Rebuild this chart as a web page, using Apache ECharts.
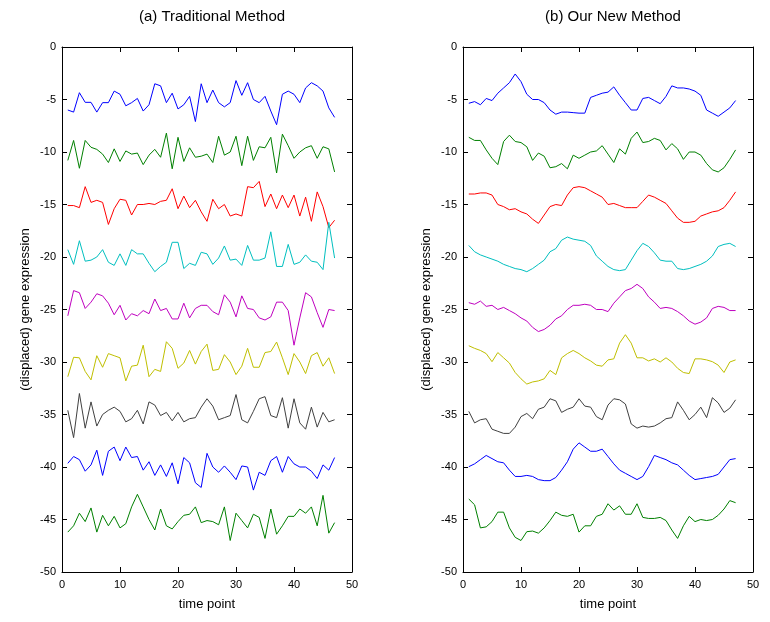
<!DOCTYPE html>
<html>
<head>
<meta charset="utf-8">
<script src="https://cdn.jsdelivr.net/npm/echarts@6/dist/echarts.min.js"></script>
<style>
  html, body { margin: 0; padding: 0; background: #fff; }
  #chart { width: 770px; height: 622px; }
</style>
</head>
<body>
<div id="chart"></div>
<script>
// time points (x)
const timePoints = [1,2,3,4,5,6,7,8,9,10,11,12,13,14,15,16,17,18,19,20,21,22,23,24,25,26,27,28,29,30,31,32,33,34,35,36,37,38,39,40,41,42,43,44,45,46,47];

// (a) traditional method, displaced profiles
const trad1 = [-6.0,-6.2,-4.35,-5.27,-5.27,-6.2,-5.3,-5.3,-4.2,-4.5,-5.6,-5.3,-4.9,-6.1,-5.5,-3.5,-3.7,-5.3,-4.4,-5.9,-5.5,-4.7,-7.1,-3.5,-5.3,-4.1,-5.3,-5.7,-5.3,-3.2,-4.6,-3.4,-5.0,-5.3,-4.7,-6.1,-7.4,-4.5,-4.2,-4.5,-5.3,-3.9,-3.4,-3.7,-4.2,-5.8,-6.7];
const trad2 = [-10.8,-8.9,-11.55,-8.9,-9.55,-9.75,-10.2,-11.0,-9.7,-10.9,-9.9,-10.2,-10.1,-11.2,-10.3,-9.75,-10.5,-8.2,-11.6,-8.6,-10.9,-9.6,-10.5,-10.4,-10.2,-11.0,-8.5,-10.3,-10.0,-8.5,-11.3,-8.5,-10.8,-9.5,-9.6,-8.6,-12.0,-8.3,-9.4,-10.6,-10.0,-9.6,-9.4,-10.6,-9.5,-9.7,-11.9];
const trad3 = [-15.1,-15.1,-15.3,-13.3,-14.8,-14.6,-14.8,-16.9,-15.4,-14.5,-14.6,-16.0,-15.0,-15.0,-14.9,-15.0,-14.7,-14.6,-13.5,-15.4,-14.2,-15.3,-14.6,-15.7,-16.6,-14.5,-15.4,-15.0,-16.1,-15.9,-16.1,-13.3,-13.4,-12.8,-15.2,-14.0,-15.4,-14.1,-15.3,-14.1,-16.1,-14.3,-16.6,-13.8,-15.2,-17.2,-16.5];
const trad4 = [-19.3,-20.7,-18.45,-20.4,-20.3,-20.0,-19.3,-20.5,-20.8,-19.7,-20.8,-19.3,-19.7,-19.7,-20.6,-21.4,-20.9,-20.5,-18.6,-18.6,-21.1,-20.6,-20.8,-19.55,-19.7,-20.7,-20.1,-18.95,-20.3,-20.2,-20.8,-18.9,-20.3,-20.3,-20.1,-17.6,-20.9,-20.9,-18.8,-20.7,-20.5,-19.8,-20.4,-20.5,-21.2,-16.7,-20.1];
const trad5 = [-25.6,-23.2,-23.4,-24.9,-24.3,-23.5,-23.7,-24.4,-25.5,-24.6,-26.0,-25.4,-25.6,-25.1,-25.4,-24.0,-25.1,-24.9,-25.9,-25.9,-24.4,-25.8,-24.9,-24.6,-24.6,-25.2,-25.5,-23.6,-24.3,-25.7,-23.7,-24.9,-25.0,-25.8,-26.0,-25.7,-24.3,-24.3,-25.1,-28.4,-25.8,-23.4,-23.8,-25.3,-26.7,-25.0,-25.1];
const trad6 = [-31.4,-29.55,-29.6,-30.9,-31.7,-29.4,-30.5,-29.2,-29.4,-29.6,-31.8,-30.4,-30.3,-28.4,-31.4,-30.7,-30.9,-28.07,-28.7,-30.6,-30.1,-28.9,-30.2,-29.0,-28.3,-30.8,-30.7,-29.3,-30.0,-31.2,-30.4,-28.7,-30.5,-30.5,-29.1,-29.0,-28.1,-29.6,-31.2,-29.2,-30.0,-31.1,-29.4,-29.1,-30.4,-29.6,-31.1];
const trad7 = [-34.6,-37.2,-33.0,-36.3,-33.8,-36.1,-35.0,-34.6,-34.3,-34.7,-35.7,-35.4,-34.6,-35.9,-33.8,-34.1,-35.1,-34.8,-35.6,-34.8,-35.7,-35.4,-35.3,-34.3,-33.5,-34.2,-35.5,-35.3,-35.1,-33.1,-35.5,-35.8,-34.7,-33.5,-33.3,-35.1,-35.3,-33.4,-36.3,-33.5,-35.8,-36.4,-34.3,-36.2,-34.8,-35.7,-35.5];
const trad8 = [-39.65,-39.0,-39.3,-40.4,-39.8,-38.4,-40.8,-38.5,-38.1,-39.4,-38.1,-39.1,-39.0,-40.3,-39.5,-40.8,-39.8,-40.9,-39.6,-41.6,-39.1,-39.6,-41.5,-41.95,-38.7,-40.0,-40.5,-39.9,-40.5,-41.2,-39.9,-40.0,-42.2,-40.5,-40.8,-39.4,-39.0,-40.5,-39.0,-39.7,-40.0,-40.0,-40.4,-41.1,-39.8,-40.3,-39.1];
const trad9 = [-46.2,-45.6,-44.4,-45.2,-43.9,-46.2,-44.6,-45.6,-44.7,-45.8,-45.4,-43.8,-42.6,-43.8,-45.0,-46.0,-44.0,-45.6,-45.9,-45.2,-44.6,-44.5,-43.8,-45.3,-45.1,-45.2,-45.5,-43.8,-47.0,-44.4,-45.1,-45.8,-44.5,-44.8,-46.8,-44.0,-46.4,-45.6,-44.7,-44.7,-44.0,-44.4,-43.8,-45.6,-42.7,-46.3,-45.3];

// (b) our new method, displaced profiles
const ours1 = [-5.36,-5.2,-5.5,-4.9,-5.1,-4.4,-3.9,-3.4,-2.57,-3.3,-4.5,-5.0,-5.0,-5.3,-6.0,-6.4,-6.2,-6.2,-6.25,-6.3,-6.3,-4.8,-4.6,-4.4,-4.3,-3.8,-4.6,-5.3,-6.0,-6.0,-4.9,-4.8,-5.1,-5.4,-4.7,-3.7,-3.9,-3.9,-4.0,-4.2,-4.6,-6.0,-6.3,-6.6,-6.2,-5.8,-5.1];
const ours2 = [-8.6,-8.9,-8.9,-9.8,-10.6,-11.2,-9.0,-8.4,-9.0,-9.1,-9.5,-10.8,-10.1,-10.4,-11.5,-11.4,-11.1,-11.6,-10.3,-10.6,-10.3,-10.0,-9.9,-9.4,-10.2,-11.0,-9.7,-10.2,-8.7,-8.1,-9.1,-9.0,-8.7,-8.9,-9.8,-9.2,-9.7,-10.7,-10.0,-10.0,-10.3,-11.1,-11.7,-11.9,-11.5,-10.7,-9.8];
const ours3 = [-14.0,-14.0,-13.9,-13.9,-14.1,-15.0,-15.2,-15.5,-15.4,-15.7,-15.9,-16.4,-16.8,-16.0,-15.2,-15.0,-15.1,-14.1,-13.4,-13.3,-13.4,-13.7,-14.0,-14.3,-15.0,-14.9,-15.1,-15.3,-15.3,-15.3,-14.7,-14.1,-14.3,-14.6,-14.9,-15.6,-16.3,-16.7,-16.7,-16.6,-16.1,-15.9,-15.7,-15.6,-15.3,-14.6,-13.8];
const ours4 = [-18.9,-19.5,-19.8,-20.0,-20.2,-20.4,-20.7,-20.9,-21.1,-21.2,-21.4,-21.1,-20.7,-20.3,-19.5,-19.2,-18.4,-18.1,-18.3,-18.4,-18.5,-18.9,-19.9,-20.4,-20.9,-21.2,-21.3,-21.2,-20.3,-19.4,-18.7,-19.0,-19.6,-20.3,-20.4,-20.4,-21.1,-21.2,-21.1,-20.9,-20.7,-20.4,-19.9,-19.0,-18.8,-18.7,-19.0];
const ours5 = [-24.35,-24.5,-24.2,-24.7,-24.6,-25.0,-24.8,-25.1,-25.4,-25.8,-26.1,-26.7,-27.1,-26.9,-26.5,-25.9,-25.6,-25.0,-24.6,-24.6,-24.5,-24.6,-25.0,-25.0,-25.2,-24.4,-23.8,-23.2,-23.0,-22.6,-23.0,-23.8,-24.3,-24.9,-24.8,-24.9,-25.2,-25.6,-26.1,-26.4,-26.2,-25.8,-24.9,-24.7,-24.8,-25.1,-25.1];
const ours6 = [-28.45,-28.7,-28.9,-29.2,-29.97,-29.1,-29.6,-30.1,-31.0,-31.6,-32.1,-31.9,-31.8,-31.6,-30.8,-31.2,-29.6,-29.2,-28.9,-29.2,-29.6,-29.9,-30.3,-30.4,-29.8,-29.7,-28.2,-27.4,-28.2,-29.6,-29.6,-29.9,-29.7,-30.0,-29.6,-30.0,-30.6,-31.0,-31.1,-29.7,-29.7,-29.8,-29.97,-30.3,-31.0,-30.0,-29.8];
const ours7 = [-34.7,-35.8,-35.5,-35.4,-36.4,-36.6,-36.8,-36.8,-36.2,-35.2,-34.9,-35.4,-34.5,-34.3,-33.5,-33.7,-34.8,-34.5,-34.3,-33.5,-34.2,-34.3,-35.2,-35.5,-34.1,-33.5,-33.6,-34.0,-35.9,-36.3,-36.1,-36.2,-36.1,-35.8,-35.4,-35.3,-33.8,-34.6,-35.5,-35.0,-34.3,-35.3,-33.4,-33.9,-34.8,-34.4,-33.6];
const ours8 = [-39.97,-39.7,-39.3,-38.9,-39.2,-39.5,-39.6,-40.3,-40.9,-40.9,-40.8,-40.9,-41.2,-41.3,-41.3,-41.0,-40.3,-39.5,-38.3,-37.7,-38.1,-38.5,-38.5,-38.3,-39.0,-39.7,-40.3,-40.6,-40.9,-41.2,-40.9,-39.97,-38.9,-39.1,-39.3,-39.6,-39.8,-40.3,-40.8,-41.2,-41.1,-41.0,-40.9,-40.7,-40.0,-39.3,-39.2];
const ours9 = [-43.05,-43.6,-45.8,-45.7,-45.2,-44.3,-44.3,-45.8,-46.7,-47.0,-46.16,-46.1,-46.3,-45.8,-45.1,-44.3,-44.6,-44.7,-44.5,-46.2,-45.6,-45.6,-44.7,-44.5,-43.5,-44.1,-43.7,-44.5,-44.5,-43.5,-44.8,-44.9,-44.9,-44.8,-45.1,-46.0,-46.8,-45.6,-44.7,-45.2,-45.0,-45.1,-45.0,-44.6,-44.0,-43.2,-43.4];

const tradData = [trad1, trad2, trad3, trad4, trad5, trad6, trad7, trad8, trad9];
const oursData = [ours1, ours2, ours3, ours4, ours5, ours6, ours7, ours8, ours9];
const lineColors = ['#0000ff', '#008000', '#ff0000', '#00bfbf', '#bf00bf', '#bfbf00', '#404040', '#0000ff', '#008000'];

const font = 'Liberation Sans, Arial, Helvetica, sans-serif';
const grids = [
  {left: 62, top: 47, width: 290, height: 525},
  {left: 463, top: 47, width: 290, height: 525}
];

function xAxisFor(idx, mirror) {
  return {
    type: 'value', gridIndex: idx, min: 0, max: 50, interval: 10,
    position: mirror ? 'top' : 'bottom',
    name: mirror ? '' : 'time point', nameLocation: 'middle', nameGap: 26,
    nameTextStyle: {color: '#000', fontSize: 13, fontFamily: font},
    axisLine: {show: true, onZero: false, lineStyle: {color: '#000', width: 1}},
    axisTick: {show: true, inside: true, length: 5, lineStyle: {color: '#000'}},
    axisLabel: {show: !mirror, color: '#000', fontSize: 11, fontFamily: font, margin: 7},
    splitLine: {show: false}
  };
}
function yAxisFor(idx, mirror) {
  return {
    type: 'value', gridIndex: idx, min: -50, max: 0, interval: 5,
    position: mirror ? 'right' : 'left',
    name: mirror ? '' : '(displaced) gene expression', nameLocation: 'middle', nameGap: 30,
    nameTextStyle: {color: '#000', fontSize: 13, fontFamily: font},
    axisLine: {show: true, onZero: false, lineStyle: {color: '#000', width: 1}},
    axisTick: {show: true, inside: true, length: 5, lineStyle: {color: '#000'}},
    axisLabel: {show: !mirror, color: '#000', fontSize: 11, fontFamily: font, margin: 6},
    splitLine: {show: false}
  };
}

const series = [];
[tradData, oursData].forEach((group, g) => {
  group.forEach((vals, i) => {
    series.push({
      type: 'line',
      xAxisIndex: g * 2,
      yAxisIndex: g * 2,
      data: timePoints.map((t, j) => [t, vals[j]]),
      showSymbol: false,
      symbol: 'none',
      silent: true,
      animation: false,
      lineStyle: {color: lineColors[i], width: 1},
      itemStyle: {color: lineColors[i]}
    });
  });
});

const option = {
  backgroundColor: '#fff',
  animation: false,
  title: [
    {text: '(a) Traditional Method', left: 207, top: 4, textAlign: 'center',
     textStyle: {fontSize: 15, fontWeight: 'normal', color: '#000', fontFamily: font}},
    {text: '(b) Our New Method', left: 608, top: 4, textAlign: 'center',
     textStyle: {fontSize: 15, fontWeight: 'normal', color: '#000', fontFamily: font}}
  ],
  grid: grids,
  xAxis: [xAxisFor(0, false), xAxisFor(0, true), xAxisFor(1, false), xAxisFor(1, true)],
  yAxis: [yAxisFor(0, false), yAxisFor(0, true), yAxisFor(1, false), yAxisFor(1, true)],
  series: series
};

const chart = echarts.init(document.getElementById('chart'));
chart.setOption(option);
</script>
</body>
</html>
